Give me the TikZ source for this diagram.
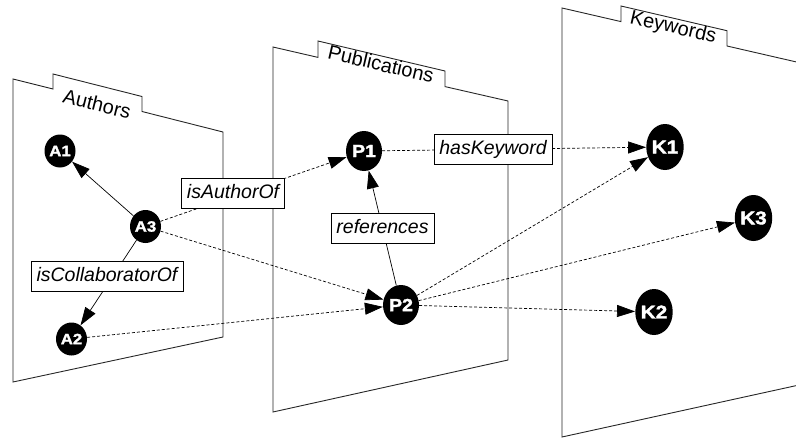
\documentclass[tikz,border=0pt]{standalone}
\usepackage{fontspec}
\setmainfont{Liberation Sans}
\newfontfamily\blackfont[FakeStretch=1.12, FakeBold=1.8]{Liberation Sans Bold}
\usetikzlibrary{arrows.meta, shapes.geometric}

\begin{document}
\begin{tikzpicture}[x=1pt, y=-1pt,
    plane/.style={draw=black!85, line width=0.9pt},
    planelabel/.style={font=\fontsize{20}{22}\selectfont, inner sep=0pt},
    entity/.style={ellipse, fill=black, text=white, inner sep=0pt},
    ent a/.style={entity, minimum width=31pt, minimum height=33pt, font=\blackfont\fontsize{15}{15}\selectfont},
    ent p/.style={entity, minimum width=36pt, minimum height=40pt, font=\blackfont\fontsize{17.5}{17}\selectfont},
    ent k/.style={entity, minimum width=37pt, minimum height=46pt, font=\blackfont\fontsize{18.5}{18}\selectfont},
    lbl/.style={draw, solid, fill=white, line width=0.6pt, font=\fontsize{19.5}{21}\selectfont\itshape,
        inner xsep=5.5pt, inner ysep=5.5pt, text height=14.5pt, text depth=4.3pt},
    rel/.style={-{Triangle[length=18pt, width=12pt]}, line width=0.7pt},
    link/.style={rel, dash pattern=on 3pt off 2pt}]

    \useasboundingbox (0,0) rectangle (796,439);

    % 1. three planes (tab on top edge)
    \draw[plane] (13,79) -- (53,89) -- (53,74) -- (142,96.5) -- (142,111.5)
        -- (223,132) -- (223,337) -- (13,382) -- cycle;
    \draw[plane] (273,47) -- (318,57.4) -- (318,41) -- (445,71) -- (445,86.6)
        -- (508,101) -- (508,360) -- (273,412) -- cycle;
    \draw[plane] (562,8) -- (621,21.6) -- (621,6) -- (727,30.7) -- (727,46)
        -- (840,72) -- (840,376) -- (562,437) -- cycle;

    \node[planelabel, rotate=-14] (authors) at (97,104) {Authors};
    \node[planelabel, rotate=-13] (pubs) at (381,64) {Publications};
    \node[planelabel, rotate=-13] (keys) at (673,28) {Keywords};

    % 2. entities
    \node[ent a] (a1) at (60,151) {A1};
    \node[ent a] (a3) at (145.5,226.5) {A3};
    \node[ent a] (a2) at (71.5,339) {A2};

    \node[ent p] (p1) at (364,151) {P1};
    \node[ent p] (p2) at (401,305) {P2};

    \node[ent k] (k1) at (665,147) {K1};
    \node[ent k] (k3) at (753.5,218) {K3};
    \node[ent k] (k2) at (654,312) {K2};

    % 3. relations inside a plane
    \draw[rel] (a3) -- (a1);
    \draw[rel] (a3) -- node[lbl, pos=0.42, xshift=-6pt] {isCollaboratorOf} (a2);
    \draw[rel] (p2) -- node[lbl, pos=0.5] {references} (p1);

    % 4. relations across planes
    \draw[link] (a3) -- node[lbl, pos=0.39, yshift=3pt] {isAuthorOf} (p1);
    \draw[link] (a3) -- (p2);
    \draw[link] (a2) -- (p2);
    \draw[link] (p1) -- node[lbl, pos=0.42] {hasKeyword} (k1);
    \draw[link] (p2) -- (k1);
    \draw[link] (p2) -- (k3);
    \draw[link] (p2) -- (k2);

\end{tikzpicture}
\end{document}
